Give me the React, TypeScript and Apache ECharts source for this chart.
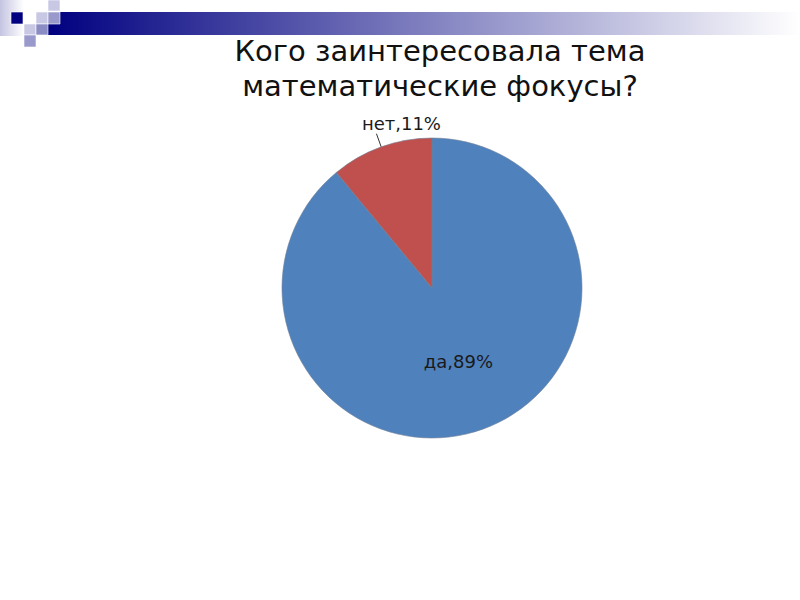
import React, { useEffect, useRef } from "react";
import * as echarts from "echarts";

const titleLines = ["Кого заинтересовала тема", "математические фокусы?"];
const categories = ["да", "нет"];
const values = [89, 11];
const sliceColors = ["#4F81BD", "#C0504D"];

export default function App() {
  const ref = useRef<HTMLDivElement>(null);
  useEffect(() => {
    if (!ref.current) return;
    const chart = echarts.init(ref.current, null, { renderer: "svg" });
    const sq = (x: number, y: number, w: number, h: number, fill: any) => ({
      type: "rect",
      shape: { x, y, width: w, height: h },
      style: { fill, stroke: "#ffffff", lineWidth: 0.6 },
      silent: true,
    });
    chart.setOption({
      animation: false,
      backgroundColor: "#ffffff",
      title: {
        text: titleLines.join("\n"),
        left: 435,
        top: 28,
        textAlign: "center",
        textStyle: {
          fontFamily: "DejaVu Sans",
          fontSize: 29,
          fontWeight: "normal",
          color: "#111111",
          lineHeight: 35,
        },
      },
      graphic: [
        {
          type: "rect",
          shape: { x: 48, y: 12, width: 752, height: 23 },
          style: {
            fill: new echarts.graphic.LinearGradient(0, 0, 1, 0, [
              { offset: 0, color: "#000080" },
              { offset: 1, color: "#ffffff" },
            ]),
          },
          silent: true,
        },
        {
          type: "rect",
          shape: { x: 0, y: 0, width: 24, height: 36 },
          style: {
            fill: new echarts.graphic.LinearGradient(0, 0, 1, 0, [
              { offset: 0, color: "#c4c4e2" },
              { offset: 1, color: "#ffffff" },
            ]),
          },
          silent: true,
        },
        sq(11, 12, 12, 12, "#000080"),
        sq(48, 0, 12, 11, "#c8c8e4"),
        sq(36, 12, 12, 12, "#c8c8e4"),
        sq(48, 12, 12, 12, "#9999cc"),
        sq(24, 24, 12, 11, "#c8c8e4"),
        sq(36, 24, 12, 11, "#8c8cc4"),
        sq(24, 35, 12, 12, "#9999cc"),
      ],
      series: [
        {
          type: "pie",
          center: [432, 288],
          radius: 150,
          startAngle: 90,
          clockwise: true,
          avoidLabelOverlap: false,
          itemStyle: { borderColor: "#6f7f96", borderWidth: 0.6 },
          label: {
            fontFamily: "DejaVu Sans",
            fontSize: 18,
            color: "#1a1a1a",
            formatter: (p: any) => `${p.name},${p.value}%`,
          },
          labelLine: {
            length: 14,
            length2: 0,
            lineStyle: { color: "#333333", width: 1 },
          },
          labelLayout: (params: any) => {
            if (params.dataIndex === 1 && params.labelLinePoints) {
              const pts = params.labelLinePoints;
              const end = pts[pts.length - 1];
              return {
                x: end[0] + 25,
                y: end[1] - 1,
                align: "center",
                verticalAlign: "bottom",
                labelLinePoints: pts,
              };
            }
            return {};
          },
          data: categories.map((c, i) => ({
            name: c,
            value: values[i],
            itemStyle: { color: sliceColors[i] },
            label: { position: i === 0 ? "inside" : "outside" },
            labelLine: { show: i !== 0 },
          })),
        },
      ],
    });
    return () => chart.dispose();
  }, []);
  return (
    <div
      ref={ref}
      style={{ position: "fixed", left: 0, top: 0, width: 800, height: 600, background: "#fff" }}
    />
  );
}
